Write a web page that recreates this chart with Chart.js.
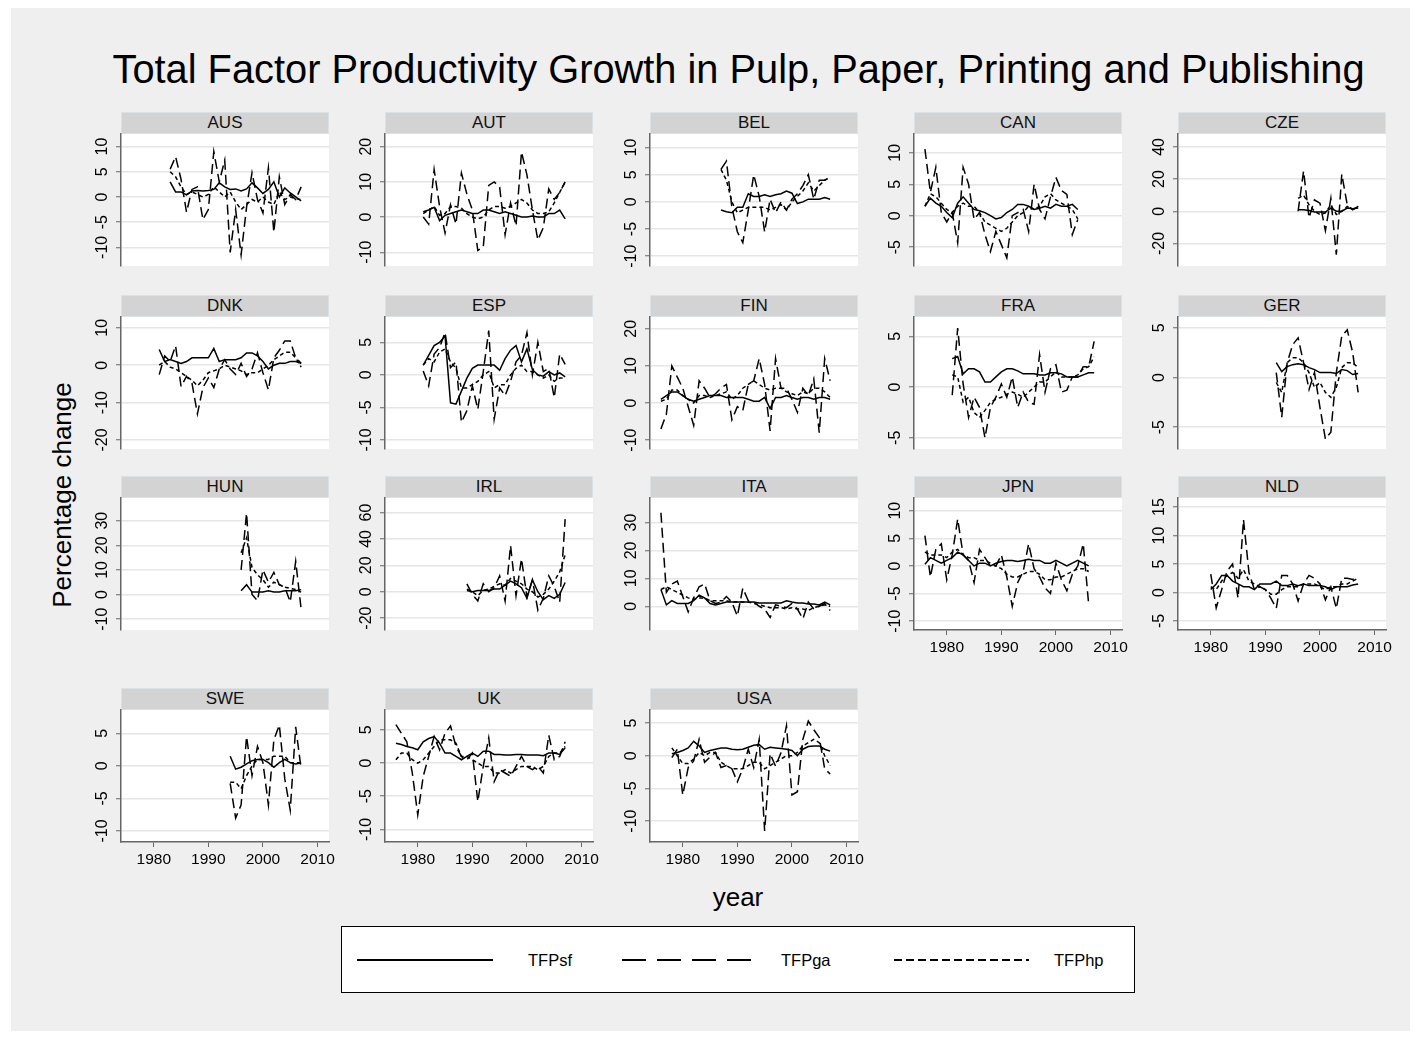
<!DOCTYPE html>
<html>
<head>
<meta charset="utf-8">
<script src="https://cdn.jsdelivr.net/npm/chart.js@4.4.1/dist/chart.umd.min.js"></script>
<style>
  html, body { margin: 0; padding: 0; background: #fff; }
  body { width: 1421px; height: 1039px; position: relative; overflow: hidden;
         font-family: "Liberation Sans", Arial, sans-serif; color: #000; }
  #frame { position: absolute; left: 11px; top: 8px; width: 1399px; height: 1023px; background: #efefef; }
  .strip { position: absolute; height: 22px; background: #d3d3d3; border: 1px solid #dae2e5; box-sizing: border-box;
           text-align: center; font-size: 17px; line-height: 20px; color: #111; }
  .plotbg { position: absolute; background: #fff; }
  canvas { position: absolute; }
  #title { position: absolute; left: 0; width: 1477px; top: 49px; text-align: center; font-size: 39.8px; line-height: 40px; }
  #xtitle { position: absolute; left: 638px; width: 200px; top: 884px; text-align: center; font-size: 26px; line-height: 26px; }
  #ytitle { position: absolute; left: -88.5px; top: 481.5px; width: 300px; height: 26px; text-align: center;
            font-size: 26px; line-height: 26px; transform: rotate(-90deg); }
  #legend { position: absolute; left: 341px; top: 926px; width: 794px; height: 67px; box-sizing: border-box;
            border: 1px solid #000; background: #fff; }
</style>
</head>
<body>
<div id="frame"></div>
<div id="title">Total Factor Productivity Growth in Pulp, Paper, Printing and Publishing</div>
<div id="ytitle">Percentage change</div>
<div id="xtitle">year</div>
<div id="legend"></div>
<script>
// ---- data ----
const countries = ['AUS','AUT','BEL','CAN','CZE','DNK','ESP','FIN','FRA','GER','HUN','IRL','ITA','JPN','NLD','SWE','UK','USA'];
const firstYear = [1983,1981,1987,1976,1996,1981,1981,1976,1981,1992,1996,1989,1976,1976,1980,1994,1976,1978];
const seriesNames = ['TFPsf','TFPga','TFPhp'];
const xTicks = [1980, 1990, 2000, 2010];
const yTicks = [
  [-10,-5,0,5,10], [-10,0,10,20], [-10,-5,0,5,10], [-5,0,5,10], [-20,0,20,40],
  [-20,-10,0,10], [-10,-5,0,5], [-10,0,10,20], [-5,0,5], [-5,0,5],
  [-10,0,10,20,30], [-20,0,20,40,60], [0,10,20,30], [-10,-5,0,5,10], [-5,0,5,10,15],
  [-10,-5,0,5], [-10,-5,0,5], [-10,-5,0,5]
];

const TFPsf = [
  [3.0,1.0,1.0,0.4,1.2,1.3,1.2,1.3,1.5,2.8,2.0,1.5,1.6,1.2,1.6,2.8,1.8,0.7,1.5,3.0,0.0,1.8,0.8,0.0,-0.8],
  [1.5,2.0,2.8,-1.0,0.5,1.0,1.5,2.0,1.5,1.0,1.0,2.0,2.0,1.5,1.0,1.5,1.0,0.5,0.0,0.0,0.3,0.0,0.0,1.0,1.0,2.0,-0.5],
  [-1.5,-1.8,-2.0,-1.0,-1.0,1.5,1.0,1.0,1.3,1.0,1.3,1.5,2.0,1.6,-0.3,0.0,0.5,0.5,0.5,0.8,0.5],
  [1.5,2.8,2.0,1.5,0.5,-0.3,2.0,3.0,2.0,1.0,0.8,0.5,0.0,-0.5,-0.3,0.5,1.0,1.8,1.8,1.5,1.0,1.2,1.5,1.2,1.8,1.5,1.5,1.8,1.0],
  [1,1,0.5,-0.5,-0.5,-0.5,2,0,0,2,1.5,2],
  [4.2,1.0,1.5,1.0,0.5,1.0,2.0,2.0,2.0,2.0,4.5,1.0,1.5,1.5,1.5,2.0,3.3,3.3,2.5,1.0,-1.0,0.0,0.5,0.5,1.0,1.0,0.5],
  [1.5,3.0,4.5,5.0,6.0,-4.3,-4.5,-2.5,-0.5,1.0,1.5,1.5,1.5,1.5,0.7,2.5,3.8,4.5,2.0,4.0,0.8,0.0,-0.2,0.5,0.0,0.3,-0.3],
  [1,2,3,3,2,1,0.5,1,1.5,2,2,2,1.5,1.5,1.5,1.5,1,0.5,0.5,1.5,-1.5,1.5,1.5,2,1.5,1,1.5,1.5,1,1.5,1.5,1],
  [2.8,3.0,1.3,1.8,1.8,1.5,0.5,0.5,1.0,1.5,1.8,1.8,1.6,1.3,1.3,1.3,1.2,1.2,1.4,1.4,1.3,1.0,1.0,1.0,1.2,1.4,1.4],
  [1.5,0.6,1.1,1.3,1.4,1.3,1.0,0.8,0.5,0.5,0.5,0.4,0.8,0.7,0.3,0.4],
  [1.5,4.0,1.0,1.0,1.0,1.5,1.0,1.0,1.5,1.5,1.5,2.0],
  [1,0,1,1,1,2,2,5,8,6,3,-5,9,0,-6,-3,-5,-2,7],
  [6,0.5,2,1,1,1,2,4,3,1,0.5,1,1.5,1.5,1.5,1.5,1.5,1.5,1.2,1.2,1.2,1.2,1.2,2,1.5,1.2,1.2,0.8,0.8,0.5,1.5,0.5],
  [0.3,1.5,1.0,0.5,1.0,1.5,2.5,2.0,1.0,0.0,0.5,0.5,0.0,0.5,0.8,1.0,1.0,0.8,1.0,1.2,1.0,1.0,0.5,0.5,1.0,0.5,0.0,0.5,1.0,0.5,0.0],
  [0.5,1.5,3,3,2,1.5,1,1,0.5,1.5,1.5,1.5,2,1.2,1.2,1.5,1.2,1.5,1.2,1.2,1.2,1.0,0.5,1.0,1.0,1.0,1.3,1.5],
  [1.5,-0.5,-0.2,0.3,0.8,1.0,1.0,0.5,-0.2,0.5,1.0,0.5,0.3,0.5],
  [3,2.8,2.5,2.3,2.0,3.2,3.7,4.0,3.0,1.5,1.5,1.0,0.5,1.0,1.5,1.0,1.8,1.8,1.3,1.3,1.2,1.2,1.3,1.3,1.2,1.2,1.2,1.1,1.5,1.5,1.3,2.3],
  [0.3,0.5,0.8,1.2,2.2,1.5,0.5,0.8,1.0,1.2,1.2,1.0,0.9,1.0,1.3,1.6,1.7,1.0,1.3,1.2,1.1,1.0,0.8,0.0,1.0,1.4,1.5,1.5,1.0,0.7]
];

const TFPga = [
  [5.5,8.0,3.5,-3.0,1.5,2.0,-4.5,-2.5,9.0,3.0,7.3,-11.0,-2.5,-11.5,-2.0,4.8,-0.5,-3.2,5.8,-7.0,4.0,-1.5,0.5,-0.5,2.0],
  [0,-2,13.5,3,-4.5,3.5,-2,12.5,6.5,2,-9.5,-8.5,9,10,8.5,-5,4,-2.5,18.5,12,2,-6.5,-3,8,5,7,10],
  [6.0,7.5,-1.0,-5.5,-7.5,-1.5,5.0,1.0,-5.5,0.5,-2.0,0.0,-1.5,0.5,1.5,3.0,5.0,0.5,4.0,4.0,4.5],
  [10.6,3.7,7.7,0.5,-1.0,0.5,-4.3,7.7,5.0,-0.6,0.5,-3.0,-5.7,-2.5,-4.6,-6.7,0.0,0.5,1.0,-2.5,5.0,1.0,-0.5,3.0,6.1,4.0,3.4,-3.0,-0.6],
  [0,25,-4,7,5,-12,8,-27,23,4,1,3],
  [-2.5,2.5,1.0,5.2,-5.7,-3.0,-4.8,-13.0,-6.0,-3.4,-6.0,-1.0,1.5,-1.0,-2.5,0.5,-3.0,-1.0,3.3,-2.0,-6.6,2.0,4.0,6.5,6.5,2.0,0.5],
  [0.6,-1.7,3.2,4.2,6.5,1.1,2.0,-7.3,-5.5,-1.7,-5.3,0.5,6.8,-6.8,-2.0,-3.2,-1.0,2.0,3.0,6.5,0.0,5.0,0.5,1.0,-3.5,3.2,1.6],
  [-7,-3,10,7,4,-1,-6,6,4,1.5,2.5,4,5,-4.5,-1,-2,5,6,12,5,-7.5,12,4,4,1,-2.5,4,2,6.5,-8,12,6],
  [-0.8,5.8,0.3,-3.0,-1.0,-2.0,-5.0,-2.0,-1.0,0.3,-1.0,1.0,-2.0,-0.5,-1.5,-1.7,3.2,-0.5,1.8,2.2,-0.5,-0.3,1.0,1.0,2.0,2.0,4.5],
  [0.5,-4.0,1.5,3.3,4.0,1.5,-1.2,0.5,-3.0,-6.2,-5.5,0.5,4.2,4.8,2.5,-1.5],
  [10,33,0,-2.5,10,5,9,4,3,-3,13.5,-6],
  [6,-2,-7,6,0,3,12,-7,35,-3,25,-4,9,-14,-5,12,4,-8,55],
  [33.5,5,8,9,3.5,-2,3,7,8,2,1,1.5,3.5,1.5,-3.5,6.5,2,1.5,0,-1,-4,0.5,0,-0.5,1,-1,-4.5,1.5,-1,0,1,-1.5],
  [5.5,-2,3,4,-2.5,2,8.5,2,1,-3,3,1.5,0,0,2,-2,-7.3,-3,-1,4,-0.5,-2,-4,-5,0.5,-2.5,-4.5,-1.5,0,4,-7],
  [3.2,-2.7,0.5,3.8,5,-1,12.8,3.5,0.5,1,0.5,-1,-2.8,3,3,1.5,-1.5,1.5,3,2.5,1.5,-1.3,1,-2.8,2.5,2.5,2.3,2.8],
  [-2.7,-8,-6,4.5,-1.5,3,0.5,-6,4,6.3,-2,-6.8,6,-0.5],
  [5.8,4.5,3.2,-1.5,-7.8,-2,1,4,2,4.5,5.6,2.5,1,0.5,1.5,-5.8,-0.5,3.8,-2.8,-1,-1.5,-2,-0.5,1,-0.5,-1,-0.5,-1.5,4.2,0.5,1,3.2],
  [-0.3,1,-6,-1.8,-0.8,2.5,-1,-0.2,0.5,-1.8,-1.5,-2,-4,-2,1,-1.8,2.5,-11.5,0.3,-1.6,0.5,4.6,-6,-5.5,2.5,5.3,4,2.8,-2,-2.8]
];

const TFPhp = [
  [5.0,4.0,2.0,0.5,1.0,0.5,0.0,0.5,2.0,1.0,0.0,1.0,-1.0,-2.5,-1.5,-0.5,-1.0,0.0,-1.0,-1.5,1.0,-0.5,0.0,-0.3,-0.5],
  [1,2,3,0.5,1,3,3,2.5,1,0,-0.5,0,2,3,3,2.5,3,4,5,4,2,1,1,1.5,4,7,10],
  [6.0,4.0,0.0,-2.0,-1.5,-1.0,-1.0,-1.0,-1.0,-1.5,-1.0,-0.5,-1.5,0.0,1.0,2.0,3.5,2.0,3.0,4.0,4.5],
  [1.5,3.5,3.0,2.0,1.0,0.5,1.5,2.0,1.5,1.5,0.5,-1.0,-1.5,-2.0,-2.5,-2.0,-1.0,0.0,0.5,1.5,1.0,1.5,3.0,3.5,2.5,2.0,1.5,1.0,-0.5],
  [8,10,4,0,-2,-1,4,-2,0,3,1,3],
  [0.0,1.0,-0.5,-1.0,-2.0,-3.0,-4.0,-5.5,-4.0,-2.0,-1.5,-1.0,0.0,-0.5,-1.0,-1.5,-2.5,-2.0,-2.0,-1.0,0.0,1.5,2.5,3.5,3.5,2.0,-0.5],
  [1.5,2.5,2.0,3.5,4.0,2.0,1.0,-2.0,-2.0,-1.5,-1.0,0.0,0.5,-2.0,-1.5,-1.5,0.0,1.0,1.5,0.5,0.5,0.0,-0.5,0.0,-1.0,-0.5,-0.5],
  [0.5,1,3.5,3.5,2,1,0,2,2,1.5,2,2.5,3,1,2,4,5,6,5,4,3.5,4,4,3,2.5,2,3,2.5,4,4,3,1.5],
  [1.2,1.0,-1.5,-1.0,-2.5,-3.0,-2.3,-1.5,-1.2,-1.0,-0.7,-0.5,-0.7,-1.0,-0.5,0.0,0.5,0.5,1.0,1.5,1.0,1.0,1.0,1.2,1.8,2.0,3.0],
  [-0.5,-1.5,1.5,2.0,2.0,1.5,0.5,-1.0,-0.5,-1.5,-2.0,-1.0,1.0,1.5,1.5,1.0],
  [17,23,11,8,6,3,5,4,3,2.5,2,1],
  [2,0,-3,1,2,4,6,5,10,8,6,2,0,-4,-2,2,8,15,28],
  [6,7,6,5,4,3,2.5,3,3,2,2,2,2,1.5,1.5,1.5,1.5,1,0.5,0,-0.5,-0.5,-0.5,-1,-0.5,-1,-1,-1.5,-0.5,0,0.5,0],
  [2.5,2,2,2,1.5,2.5,3,2,1.5,1.5,1,1,0.5,0,-0.5,-1.5,-2,-2,-1.5,-1,-1,-1.5,-2.5,-2.5,-2,-2,-1.5,-1,-0.5,-0.5,-1],
  [1,0.5,2,3,3.5,2.5,4,2,1.5,1,0.5,-0.3,-0.3,0.5,1,1,1,1.5,1.5,1.5,1,0.5,1,1,1.5,1.5,2,2.5],
  [-2.5,-2.5,-3.5,-1.5,0,1,1,1,1.5,1.5,1.5,0.5,0.5,0.5],
  [0.5,1.5,1.5,0.5,0,0.5,1.5,2.5,3.5,3.5,3.5,3,1,1,0.5,0,-0.5,-0.5,-1.5,-1.5,-1,-1.5,-1,-0.5,-0.5,-0.5,-1,-0.5,1,1.5,1.5,2.5],
  [1.2,0,-1.2,-1.2,-0.5,0.5,0,0.5,0.5,-1,-1.5,-2,-2,-2,-1.5,-1,-1,-2,-1.5,-1,-0.5,0,0,0.5,1.5,2,2.5,2,0,-1.5]
];

// ---- axis limits and layout ----
const yLimits = [
  [-13.7,12.5], [-13.9,23.6], [-11.8,12.5], [-8,13], [-34,48],
  [-22.4,12.9], [-11.4,8.9], [-12.4,23.2], [-6.1,6.9], [-7.2,6.1],
  [-14.4,39.2], [-29,71], [-8.5,38.8], [-11.6,12.3], [-6.6,16.6],
  [-11.7,8.6], [-11.9,8], [-13.2,7]
];
const xMin = 1974, xMax = 2012.1;
const colLeft = [121, 385, 650, 914, 1178];
const stripTop = [112, 295, 476, 688];
const PW = 208, SH = 22, PH = 132, AXW = 50, XAH = 32, PAD = 16;
const lineDash = [[], [10, 5], [4, 3]];
const FONT = '"Liberation Sans", Arial, sans-serif';
const YFS = 16;

Chart.defaults.font.family = FONT;

const mctx = document.createElement('canvas').getContext('2d');
mctx.font = YFS + 'px ' + FONT;

countries.forEach((c, i) => {
  const row = Math.floor(i / 5), col = i % 5;
  const left = colLeft[col], sTop = stripTop[row], pTop = sTop + SH;
  const hasX = i >= 13;

  const strip = document.createElement('div');
  strip.className = 'strip';
  Object.assign(strip.style, {left: left + 'px', top: sTop + 'px', width: PW + 'px'});
  strip.textContent = c;
  document.body.appendChild(strip);

  const bg = document.createElement('div');
  bg.className = 'plotbg';
  Object.assign(bg.style, {left: left + 'px', top: pTop + 'px', width: PW + 'px', height: PH + 'px'});
  document.body.appendChild(bg);

  const W = AXW + PW + PAD, H = PAD + PH + (hasX ? XAH : 0) + PAD;
  const cv = document.createElement('canvas');
  cv.width = W; cv.height = H;
  Object.assign(cv.style, {left: (left - AXW) + 'px', top: (pTop - PAD) + 'px', width: W + 'px', height: H + 'px'});
  document.body.appendChild(cv);

  const ticks = yTicks[i];
  const widest = Math.max(...ticks.map(v => mctx.measureText(String(v)).width));
  const labPad = Math.max(0, 18.5 - 5 - widest / 2);

  const years = TFPsf[i].map((_, k) => firstYear[i] + k);
  const series = [TFPsf[i], TFPga[i], TFPhp[i]];

  new Chart(cv, {
    type: 'line',
    data: {
      datasets: series.map((vals, s) => ({
        label: seriesNames[s],
        data: vals.map((v, k) => ({x: years[k], y: v})),
        borderColor: '#000',
        borderWidth: 1.5,
        borderDash: lineDash[s],
        pointRadius: 0,
        fill: false,
        tension: 0
      }))
    },
    options: {
      responsive: false,
      animation: false,
      layout: {padding: {top: PAD, right: PAD, bottom: PAD, left: 0}},
      plugins: {legend: {display: false}, tooltip: {enabled: false}},
      scales: {
        x: {
          type: 'linear', min: xMin, max: xMax, display: hasX,
          afterBuildTicks: s => { s.ticks = xTicks.map(v => ({value: v})); },
          afterFit: s => { s.height = hasX ? XAH : 0; s.paddingLeft = 0; s.paddingRight = 0; },
          ticks: {color: '#000', font: {size: 15.5}, padding: 3, minRotation: 0, maxRotation: 0, callback: v => String(v)},
          grid: {drawOnChartArea: false, tickLength: 5, tickColor: '#666', tickWidth: 1},
          border: {color: '#666', width: 1.5}
        },
        y: {
          min: yLimits[i][0], max: yLimits[i][1],
          afterBuildTicks: s => { s.ticks = ticks.map(v => ({value: v})); },
          afterFit: s => { s.width = AXW; s.paddingTop = 0; s.paddingBottom = 0; },
          ticks: {color: '#000', font: {size: YFS}, padding: labPad, minRotation: 90, maxRotation: 90,
                  crossAlign: 'center', callback: v => String(v)},
          grid: {color: '#e6e6e6', lineWidth: 1.5, tickLength: 5, tickColor: '#666', tickWidth: 1},
          border: {color: '#666', width: 1.5}
        }
      }
    }
  });
});

// ---- legend ----
const legend = document.getElementById('legend');
const legLine = [[15, 151], [280, 416], [552, 687]];
const legText = [186, 439, 712];
const legDash = ['', '24 11', '8 4'];
let svg = '<svg width="792" height="65" xmlns="http://www.w3.org/2000/svg">';
seriesNames.forEach((n, s) => {
  svg += `<line x1="${legLine[s][0]}" y1="33" x2="${legLine[s][1]}" y2="33" stroke="#000" stroke-width="2"` +
         (legDash[s] ? ` stroke-dasharray="${legDash[s]}"` : '') + '/>';
  svg += `<text x="${legText[s]}" y="39" font-family='${FONT}' font-size="16.5" fill="#000">${n}</text>`;
});
svg += '</svg>';
legend.innerHTML = svg;
</script>
</body>
</html>
